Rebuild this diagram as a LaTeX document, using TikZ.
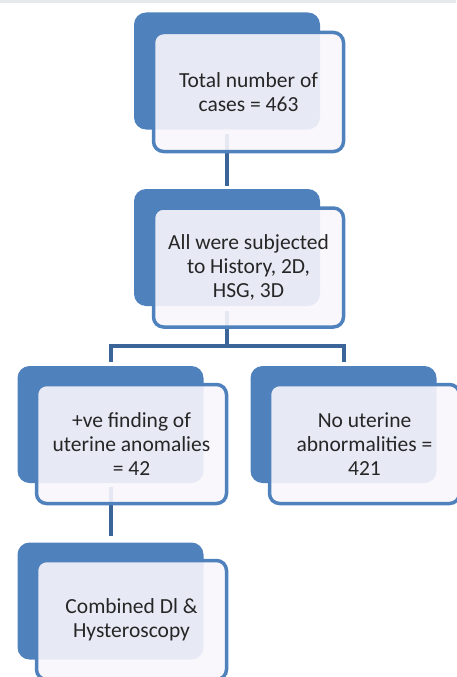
\documentclass[tikz,border=0pt]{standalone}
\usepackage{fontspec}
\setmainfont{Carlito}
\definecolor{boxblue}{RGB}{79,129,189}
\definecolor{linkblue}{RGB}{59,100,152}
\definecolor{frontfill}{RGB}{248,246,252}
\definecolor{txtgrey}{RGB}{38,38,38}
\definecolor{topband}{RGB}{230,232,236}
\begin{document}
\begin{tikzpicture}[x=1pt,y=-1pt,font=\fontsize{21.5}{24}\selectfont,
  back/.style={fill=boxblue,rounded corners=12pt,minimum width=186pt,minimum height=117pt,inner sep=0pt},
  front/.style={draw=boxblue,line width=3.5pt,rounded corners=10pt,fill=frontfill,fill opacity=0.9,text opacity=1,text=txtgrey,minimum width=190pt,minimum height=119pt,inner sep=0pt,align=center},
  link/.style={draw=linkblue,line width=4pt}]
\useasboundingbox (0,0) rectangle (456,677);
\fill[topband] (0,0) rectangle (456,3);
% back boxes
\node[back] (b1) at (227,71) {};
\node[back] (b2) at (227,247.5) {};
\node[back] (b3) at (110.5,424.5) {};
\node[back] (b4) at (343.5,424.5) {};
\node[back] (b5) at (110.5,601) {};
% connectors
\coordinate (split) at (227,346);
\draw[link,shorten <=4pt,shorten >=3pt] (b1.south)--(b2.north);
\draw[link,shorten <=5pt] (b2.south)--(split);
\draw[link,shorten >=4pt] (split)-|(b3.north);
\draw[link,shorten >=4pt] (split)-|(b4.north);
\draw[link,shorten <=4pt,shorten >=6pt] (b3.south)--(b5.north);
% front boxes
\node[front] (f1) at (248.5,92) {Total number of\\cases = 463};
\node[front] (f2) at (248.5,267.5) {All were subjected\\to History, 2D,\\HSG, 3D};
\node[front] (f3) at (131.5,444) {+ve finding of\\uterine anomalies\\= 42};
\node[front] (f4) at (364.5,444) {No uterine\\abnormalities =\\421};
\node[front] (f5) at (131.5,620) {Combined Dl \&\\Hysteroscopy};
\end{tikzpicture}
\end{document}
